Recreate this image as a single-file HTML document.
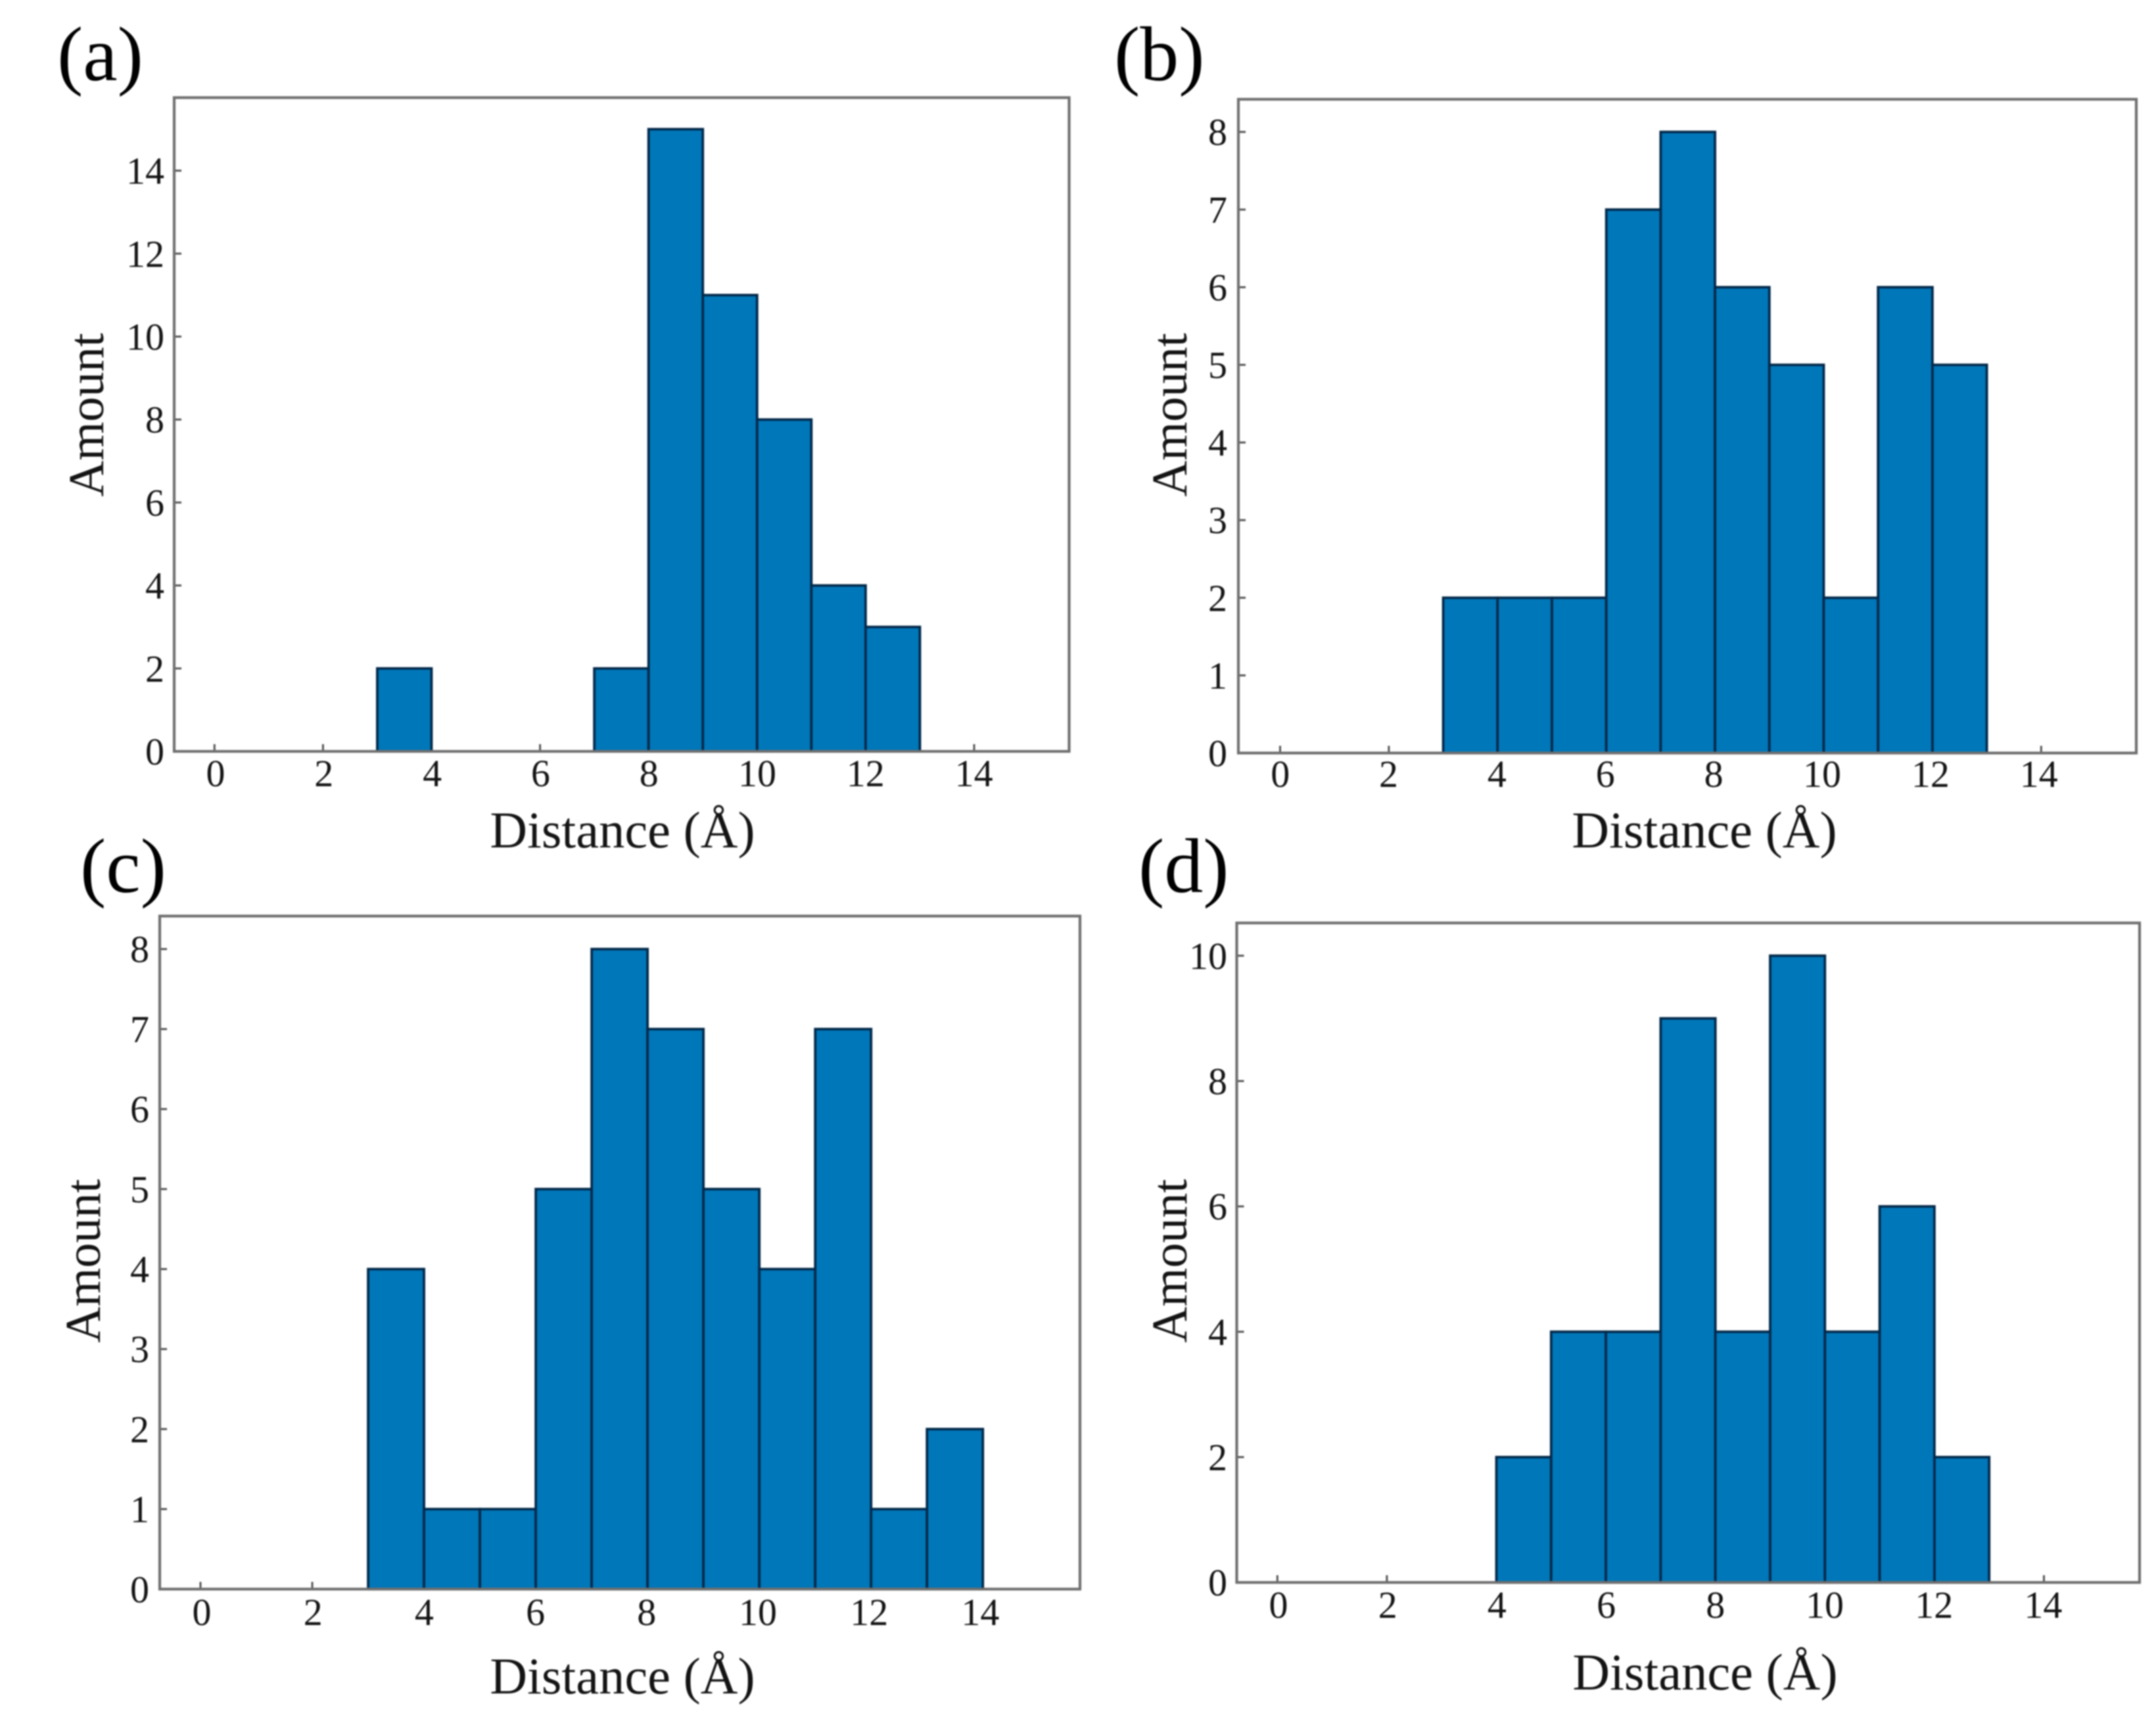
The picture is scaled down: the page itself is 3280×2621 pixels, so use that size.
<!DOCTYPE html>
<html lang="en">
<head>
<meta charset="utf-8">
<title>Distance histograms</title>
<style>
html,body{margin:0;padding:0;background:#fff;}
body{width:3280px;height:2621px;overflow:hidden;}
svg{display:block;}
text{font-family:"Liberation Serif",serif;fill:#141414;}
text.panel-tag{fill:#000;}
</style>
</head>
<body>
<svg id="figure" xmlns="http://www.w3.org/2000/svg" width="3280" height="2621" viewBox="0 0 3280 2621">
<rect x="0" y="0" width="3280" height="2621" fill="#ffffff"/>
<g id="root" style="filter:blur(1px)"></g>
</svg>
<script>
// Chart data
const binStarts = [0,1,2,3,4,5,6,7,8,9,10,11,12,13,14];
const amountsA = [0,0,0,2,0,0,0,2,15,11,8,4,3,0,0];
const amountsB = [0,0,0,2,2,2,7,8,6,5,2,6,5,0,0];
const amountsC = [0,0,0,4,1,1,5,8,7,5,4,7,1,2,0];
const amountsD = [0,0,0,0,2,4,4,9,4,10,4,6,2,0,0];
const xTickLabels = [0,2,4,6,8,10,12,14];
const yTickLabelsA = [0,2,4,6,8,10,12,14];
const yTickLabelsB = [0,1,2,3,4,5,6,7,8];
const yTickLabelsC = [0,1,2,3,4,5,6,7,8];
const yTickLabelsD = [0,2,4,6,8,10];
const xAxisTitle = "Distance (\u00C5)";
const yAxisTitle = "Amount";

// Panel geometry
const panels = [
  {id:'a',tag:'(a)',tagX:87,tagY:122,values:amountsA,yTicks:yTickLabelsA,
   left:265,right:1626.5,top:148.5,bottom:1143,x0:326.3,xUnit:82.55,yUnit:63.1,
   labelX0:328,labelUnit:82.4,
   xLabelY:1196,yLabelX:250,xTitleX:947,xTitleY:1289,yTitleX:157,yTitleY:631},
  {id:'b',tag:'(b)',tagX:1695,tagY:122,values:amountsB,yTicks:yTickLabelsB,
   left:1884,right:3250,top:151,bottom:1145.5,x0:1947.5,xUnit:82.7,yUnit:118.1,
   labelX0:1947.7,labelUnit:82.43,
   xLabelY:1197,yLabelX:1867,xTitleX:2593,xTitleY:1289,yTitleX:1805,yTitleY:631},
  {id:'c',tag:'(c)',tagX:122,tagY:1357,values:amountsC,yTicks:yTickLabelsC,
   left:243,right:1643,top:1393.5,bottom:2417.3,x0:305,xUnit:85.02,yUnit:121.7,
   labelX0:307,labelUnit:84.6,
   xLabelY:2472,yLabelX:227,xTitleX:947,xTitleY:2576,yTitleX:152,yTitleY:1918},
  {id:'d',tag:'(d)',tagX:1732,tagY:1357,values:amountsD,yTicks:yTickLabelsD,
   left:1881.5,right:3255,top:1404,bottom:2407.2,x0:1943.3,xUnit:83.3,yUnit:95.34,
   labelX0:1945,labelUnit:83.1,
   xLabelY:2461,yLabelX:1867,xTitleX:2594,xTitleY:2570,yTitleX:1805,yTitleY:1918}
];

const NS = 'http://www.w3.org/2000/svg';
const root = document.getElementById('root');
function mk(parent, tag, attrs, txt){
  const el = document.createElementNS(NS, tag);
  for (const k in attrs) el.setAttribute(k, attrs[k]);
  if (txt !== undefined) el.textContent = txt;
  parent.appendChild(el);
  return el;
}

panels.forEach(function(p){
  const xScale = function(v){ return p.x0 + v * p.xUnit; };
  const xLabelScale = function(v){ return p.labelX0 + v * p.labelUnit; };
  const yScale = function(v){ return p.bottom - v * p.yUnit; };

  const g = mk(root, 'g', {});
  
  

  const tag = mk(g, 'text', {x:p.tagX, y:p.tagY, 'font-size':118, 'class':'panel-tag'}, p.tag);
  
  

  xTickLabels.forEach(function(t){
    const tick = mk(g, 'line', {x1:xScale(t), x2:xScale(t), y1:p.bottom, y2:p.bottom-11, stroke:'#555', 'stroke-width':3});
    
    
    const lab = mk(g, 'text', {x:xLabelScale(t), y:p.xLabelY, 'font-size':58, 'text-anchor':'middle'}, String(t));
    
    
  });

  p.yTicks.forEach(function(t){
    const tick = mk(g, 'line', {x1:p.left, x2:p.left+11, y1:yScale(t), y2:yScale(t), stroke:'#555', 'stroke-width':3});
    
    
    const lab = mk(g, 'text', {x:p.yLabelX, y:yScale(t)+20, 'font-size':58, 'text-anchor':'end'}, String(t));
    
    
  });

  p.values.forEach(function(v, i){
    if (!v) return;
    const x1 = xScale(binStarts[i]);
    const x2 = xScale(binStarts[i] + 1);
    const bar = mk(g, 'rect', {x:x1, y:yScale(v), width:x2-x1, height:p.bottom-yScale(v), fill:'#0077b9', stroke:'#03294a', 'stroke-width':3.8});
    
    
  });

  const frame = mk(g, 'rect', {x:p.left, y:p.top, width:p.right-p.left, height:p.bottom-p.top, fill:'none', stroke:'#707070', 'stroke-width':4.2});
  
  

  const xt = mk(g, 'text', {x:p.xTitleX, y:p.xTitleY, 'font-size':78.5, 'text-anchor':'middle'}, xAxisTitle);
  
  

  const yt = mk(g, 'text', {x:0, y:0, 'font-size':76, 'text-anchor':'middle', transform:'translate(' + p.yTitleX + ' ' + p.yTitleY + ') rotate(-90)'}, yAxisTitle);
  
  
});
</script>
</body>
</html>
